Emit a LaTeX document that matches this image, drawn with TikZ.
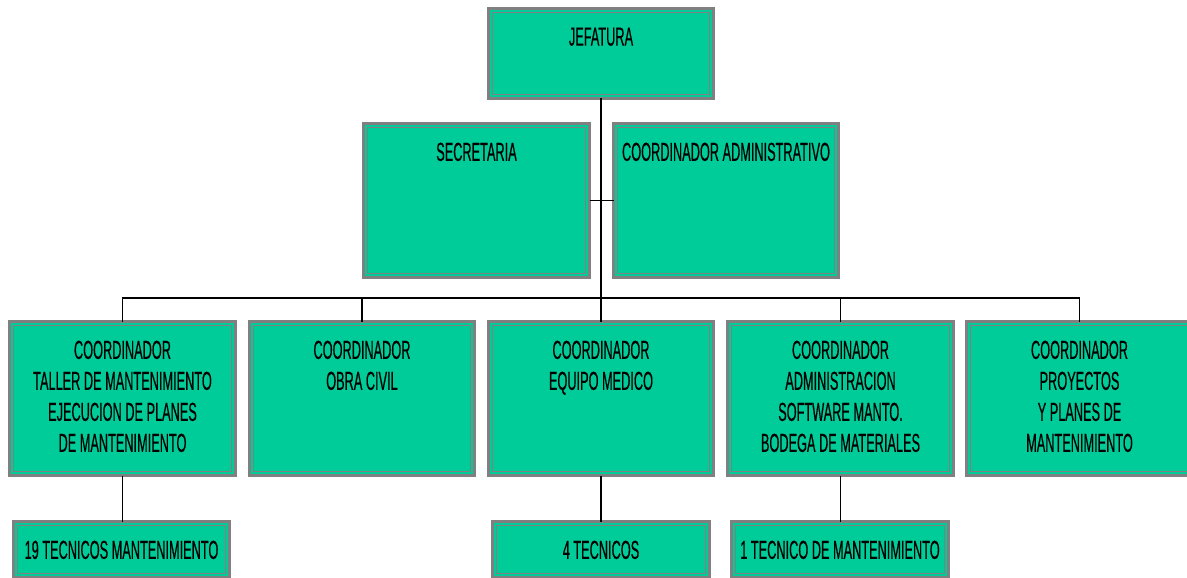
\documentclass[tikz,border=0pt]{standalone}
\usepackage{fontspec}
\setmainfont{Liberation Sans}[FakeStretch=0.49,FakeBold=0.4]
\definecolor{boxgreen}{HTML}{00CC99}
\definecolor{boxgray}{HTML}{808080}
\tikzset{
  orgbox/.style={draw=boxgray, line width=3pt, fill=boxgreen, rectangle, inner sep=0pt, outer sep=0pt},
  innerline/.style={draw=boxgray, line width=1pt},
  orgtext/.style={anchor=north, inner sep=0pt, align=center, text=black, font=\fontsize{26}{31}\selectfont},
  conn/.style={draw=black, line width=1.2pt},
}
% name, x1, y1, x2, y2, text   (outer edge coordinates, y downward)
\newcommand\mkbox[6]{%
  \node[orgbox, minimum width={#4-#2-3pt}, minimum height={#5-#3-3pt}] (#1) at ({(#2+#4)/2},{(#3+#5)/2}) {};
  \draw[innerline] ([shift={(3.6,3.6)}]#1.north west) rectangle ([shift={(-3.6,-3.6)}]#1.south east);
  \node[orgtext] (#1-t) at ({(#2+#4)/2},{#3+20.5}) {#6};
}
\begin{document}
\begin{tikzpicture}[x=1pt,y=-1pt]
\useasboundingbox (0,0) rectangle (1187,578);
\begin{scope}
\clip (0,0) rectangle (1187,578);
\mkbox{jef}{487}{7}{715}{100}{JEFATURA}
\mkbox{sec}{362}{122}{591}{279}{SECRETARIA}
\mkbox{adm}{612}{122}{840}{279}{COORDINADOR ADMINISTRATIVO}
\mkbox{c1}{8}{320}{237}{477}{COORDINADOR\\TALLER DE MANTENIMIENTO\\EJECUCION DE PLANES\\DE MANTENIMIENTO}
\mkbox{c2}{248}{320}{476}{477}{COORDINADOR\\OBRA CIVIL}
\mkbox{c3}{487}{320}{715}{477}{COORDINADOR\\EQUIPO MEDICO}
\mkbox{c4}{726}{320}{955}{477}{COORDINADOR\\ADMINISTRACION\\SOFTWARE MANTO.\\BODEGA DE MATERIALES}
\mkbox{c5}{965}{320}{1194}{477}{COORDINADOR\\PROYECTOS\\Y PLANES DE\\MANTENIMIENTO}
\mkbox{t1}{12}{520}{231}{579}{19 TECNICOS MANTENIMIENTO}
\mkbox{t3}{491}{520}{711}{579}{4 TECNICOS}
\mkbox{t4}{730}{520}{950}{579}{1 TECNICO DE MANTENIMIENTO}
\end{scope}
\coordinate (bus) at (601,298);
\draw[conn] (jef.south) -- (bus);
\draw[conn, line width=1.8pt] (sec.east) -- (adm.west);
\foreach \c in {c1,c2,c3,c4,c5} { \draw[conn] (bus) -| (\c.north); }
\draw[conn] (c1.south) -- (c1.south |- t1.north);
\draw[conn] (c3.south) -- (c3.south |- t3.north);
\draw[conn] (c4.south) -- (c4.south |- t4.north);
\end{tikzpicture}
\end{document}
